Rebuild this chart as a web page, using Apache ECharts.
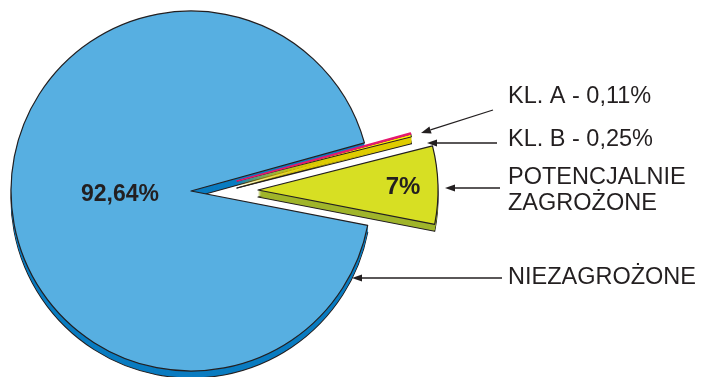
<!DOCTYPE html>
<html>
<head>
<meta charset="utf-8">
<script src="https://cdn.jsdelivr.net/npm/echarts@6/dist/echarts.min.js"></script>
<style>
  html, body { margin: 0; padding: 0; background: #ffffff; }
  #chart { width: 702px; height: 377px; }
</style>
</head>
<body>
<div id="chart"></div>
<script>
// Shares of the area by threat class (percent)
const categories = ['KL. A', 'KL. B', 'POTENCJALNIE ZAGROŻONE', 'NIEZAGROŻONE'];
const shares = [0.11, 0.25, 7, 92.64];

// Callout texts on the right; the first two also state the share
const calloutNames = ['KL. A', 'KL. B', 'POTENCJALNIE\nZAGROŻONE', 'NIEZAGROŻONE'];
const calloutShowsValue = [true, true, false, false];

// Face and side colours of each slice
const faceColors = ['#E5196F', '#FFF200', '#D7DF23', '#57AFE1'];
const sideColors = ['#DFCC00', '#DFCC00', '#A0B52B', '#0A7CC1'];
const faceBorderColors = ['#E5196F', '#231F20', '#231F20', '#231F20'];
const faceBorderWidths = [1.3, 1, 1.2, 1.2];

const INK = '#231F20';
const FONT = '"Liberation Sans", Arial, Helvetica, sans-serif';
const RADIUS = 180;
const DEPTH = 7;
const START_ANGLE = 15.5;

// Pieces of the exploded pie: members (drawn in this order) and centre
const pieces = [
  { members: [3], center: [191, 191] },
  { members: [2], center: [258, 190] },
  { members: [1, 0], center: [237, 181] }
];

// Label anchors and arrows of the callouts
const calloutText = { x: 508, y: [97, 140, 191, 278] };
const arrowTips = [[421, 133], [427, 143], [445, 188], [352, 278]];
const arrowTails = [[493, 110], [497, 143], [500, 188], [502, 278]];

function fmtShare(v) {
  return String(v).replace('.', ',') + '%';
}

const hidden = { color: 'rgba(0,0,0,0)', borderWidth: 0 };

function pieLayer(center, visible, styleFor) {
  return {
    type: 'pie',
    center: center,
    radius: RADIUS,
    startAngle: START_ANGLE,
    clockwise: true,
    silent: true,
    animation: false,
    avoidLabelOverlap: false,
    label: { show: false },
    labelLine: { show: false },
    emphasis: { disabled: true },
    data: categories.map((name, i) => ({
      name: name,
      value: shares[i],
      itemStyle: visible.includes(i) ? styleFor(i) : hidden
    }))
  };
}

// Where the percentage labels of the two large slices sit
const shareLabelPos = { 3: [120, 195], 2: [403, 187] };
const shareLabelSize = { 3: 23, 2: 24 };

const series = [];
let z = 1;
pieces.forEach(piece => {
  const [cx, cy] = piece.center;
  // side walls: stacked copies shifted downwards, deepest one outlined
  for (let s = DEPTH; s >= 1; s--) {
    const layer = pieLayer([cx, cy + s], piece.members, i => ({
      color: sideColors[i],
      borderColor: s === DEPTH ? INK : sideColors[i],
      borderWidth: s === DEPTH ? 1.1 : 0
    }));
    layer.z = z++;
    series.push(layer);
  }
  // top faces
  piece.members.forEach(m => {
    const layer = pieLayer([cx, cy], [m], i => ({
      color: faceColors[i],
      borderColor: faceBorderColors[i],
      borderWidth: faceBorderWidths[i]
    }));
    layer.z = z++;
    if (shareLabelPos[m]) {
      const pos = shareLabelPos[m];
      layer.label = {
        show: true,
        position: 'inner',
        formatter: p => fmtShare(p.value),
        fontFamily: FONT,
        fontWeight: 'bold',
        fontSize: shareLabelSize[m],
        color: INK
      };
      layer.labelLayout = p => (p.dataIndex === m
        ? { x: pos[0], y: pos[1], align: 'center', verticalAlign: 'middle' }
        : {});
      layer.data.forEach((d, i) => { d.label = { show: i === m }; });
    }
    series.push(layer);
  });
});

// Callouts: text plus an arrow pointing at the slice
const graphic = [];
categories.forEach((name, i) => {
  const text = calloutShowsValue[i]
    ? calloutNames[i] + ' - ' + fmtShare(shares[i])
    : calloutNames[i];
  graphic.push({
    type: 'text',
    x: calloutText.x,
    y: calloutText.y[i],
    z: 100,
    style: {
      text: text,
      font: '23.5px ' + FONT,
      fill: INK,
      verticalAlign: 'middle',
      align: 'left',
      lineHeight: 26
    }
  });
  const [tx, ty] = arrowTips[i];
  const [sx, sy] = arrowTails[i];
  const len = Math.hypot(sx - tx, sy - ty);
  const ux = (sx - tx) / len, uy = (sy - ty) / len;
  const headLen = 10, headHalf = 3.6;
  const bx = tx + ux * headLen, by = ty + uy * headLen;
  graphic.push({
    type: 'line',
    z: 100,
    shape: { x1: sx, y1: sy, x2: bx, y2: by },
    style: { stroke: INK, lineWidth: 1.3 }
  });
  graphic.push({
    type: 'polygon',
    z: 100,
    shape: {
      points: [
        [tx, ty],
        [bx - uy * headHalf, by + ux * headHalf],
        [bx + uy * headHalf, by - ux * headHalf]
      ]
    },
    style: { fill: INK }
  });
});

const chart = echarts.init(document.getElementById('chart'), null, { renderer: 'canvas' });
chart.setOption({
  backgroundColor: '#ffffff',
  animation: false,
  series: series,
  graphic: graphic
});
</script>
</body>
</html>
